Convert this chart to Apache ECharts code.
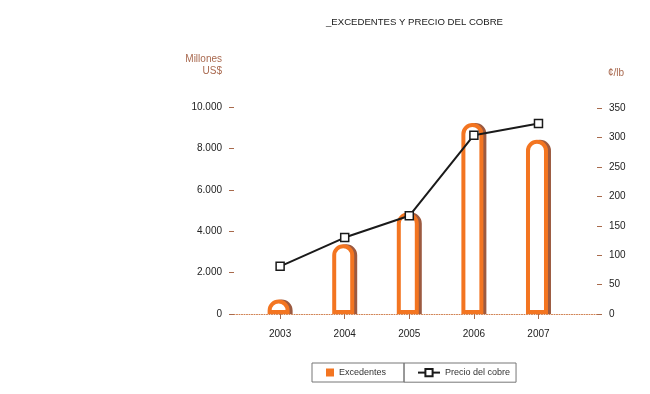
<!DOCTYPE html>
<html>
<head>
<meta charset="utf-8">
<script src="https://cdn.jsdelivr.net/npm/echarts@6/dist/echarts.min.js"></script>
<style>
html,body{margin:0;padding:0;background:#fff;}
#chart{width:650px;height:394px;}
</style>
</head>
<body>
<div id="chart"></div>
<script>
// ---- data ----
const years = [2003, 2004, 2005, 2006, 2007];
const excedentes = [700, 3370, 4900, 9230, 8420];        // Millones US$
const precioCobre = [81, 130, 167, 304, 324];             // ¢/lb
const leftTicks = [0, 2000, 4000, 6000, 8000, 10000];
const rightTicks = [0, 50, 100, 150, 200, 250, 300, 350];
const titleText = '_EXCEDENTES Y PRECIO DEL COBRE';
const seriesNames = ['Excedentes', 'Precio del cobre'];

const ORANGE = '#f37521';
const BROWN = '#9c5a40';
const AXISBROWN = '#a86a4c';
const NAMECOLOR = '#a9694f';
const FONT = '"Liberation Sans", Arial, Helvetica, sans-serif';

function fmtThousands(v) {
  return String(v).replace(/\B(?=(\d{3})+(?!\d))/g, '.');
}

const barData = years.map((y, i) => [y, excedentes[i]]);

const chart = echarts.init(document.getElementById('chart'), null, {renderer: 'canvas'});
chart.setOption({
  animation: false,
  backgroundColor: '#fff',
  textStyle: {fontFamily: FONT},
  title: {
    text: titleText,
    left: 326, top: 17, padding: 0,
    textStyle: {fontSize: 9.6, fontWeight: 'normal', color: '#1a1a1a', fontFamily: FONT}
  },
  legend: [
    {
      data: [{name: seriesNames[0], icon: 'rect'}],
      left: 312, top: 363,
      orient: 'horizontal',
      itemWidth: 8, itemHeight: 8,
      padding: [5, 18, 5, 14],
      borderColor: '#777', borderWidth: 1,
      selectedMode: false,
      itemStyle: {color: ORANGE, borderWidth: 0, borderRadius: 0},
      textStyle: {fontSize: 9, color: '#333', fontFamily: FONT}
    },
    {
      data: [{name: seriesNames[1]}],
      left: 404, top: 363,
      itemWidth: 22, itemHeight: 9,
      padding: [5, 6, 5, 13],
      borderColor: '#777', borderWidth: 1,
      selectedMode: false,
      textStyle: {fontSize: 9, color: '#333', fontFamily: FONT}
    }
  ],
  grid: {left: 234, right: 53, top: 107, bottom: 80, containLabel: false},
  xAxis: {
    type: 'value',
    min: 2002.286, max: 2007.906,
    splitLine: {show: false},
    axisLine: {show: true, onZero: false, lineStyle: {color: '#d08050', type: [1, 1.5], width: 1}},
    axisTick: {show: true, length: 5, customValues: years, lineStyle: {color: AXISBROWN}},
    axisLabel: {customValues: years, margin: 15, fontSize: 10, color: '#222', fontFamily: FONT,
                formatter: v => String(v)}
  },
  yAxis: [
    {
      type: 'value', position: 'left',
      min: 0, max: 10000,
      name: 'Millones\nUS$',
      nameLocation: 'end', nameGap: 30,
      nameTextStyle: {align: 'right', padding: [0, 12, 0, 0], fontSize: 10, lineHeight: 12, color: NAMECOLOR, fontFamily: FONT},
      splitLine: {show: false},
      axisLine: {show: false},
      axisTick: {show: true, length: 5, customValues: leftTicks, lineStyle: {color: AXISBROWN}},
      axisLabel: {customValues: leftTicks, margin: 12, fontSize: 10, color: '#222', fontFamily: FONT,
                  formatter: v => fmtThousands(v)}
    },
    {
      type: 'value', position: 'right',
      min: 0, max: 352,
      name: '¢/lb',
      nameLocation: 'end', nameGap: 29,
      nameTextStyle: {align: 'left', padding: [0, 0, 0, 11], fontSize: 10, color: NAMECOLOR, fontFamily: FONT},
      splitLine: {show: false},
      axisLine: {show: false},
      axisTick: {show: true, length: 5, customValues: rightTicks, lineStyle: {color: AXISBROWN}},
      axisLabel: {customValues: rightTicks, margin: 12, fontSize: 10, color: '#222', fontFamily: FONT}
    }
  ],
  series: [
    {
      name: seriesNames[0],
      type: 'bar',
      yAxisIndex: 0,
      barWidth: 22,
      barGap: '-86.4%',
      data: barData,
      itemStyle: {color: '#fff', borderColor: ORANGE, borderWidth: 4, borderRadius: [11, 11, 0, 0]},
      emphasis: {disabled: true},
      z: 3
    },
    {
      // brown offset outline (shadow) of the same bars, drawn behind
      name: 'sombra',
      type: 'bar',
      yAxisIndex: 0,
      barWidth: 22,
      barGap: '-86.4%',
      data: barData,
      itemStyle: {color: 'rgba(0,0,0,0)', borderColor: BROWN, borderWidth: 4, borderRadius: [11, 11, 0, 0]},
      emphasis: {disabled: true},
      silent: true,
      z: 1
    },
    {
      name: seriesNames[1],
      type: 'line',
      yAxisIndex: 1,
      data: years.map((y, i) => [y, precioCobre[i]]),
      symbol: 'rect',
      symbolSize: 8,
      lineStyle: {color: '#1a1a1a', width: 2},
      itemStyle: {color: '#fff', borderColor: '#1a1a1a', borderWidth: 1.5},
      z: 5,
      emphasis: {disabled: true}
    }
  ]
});
</script>
</body>
</html>
